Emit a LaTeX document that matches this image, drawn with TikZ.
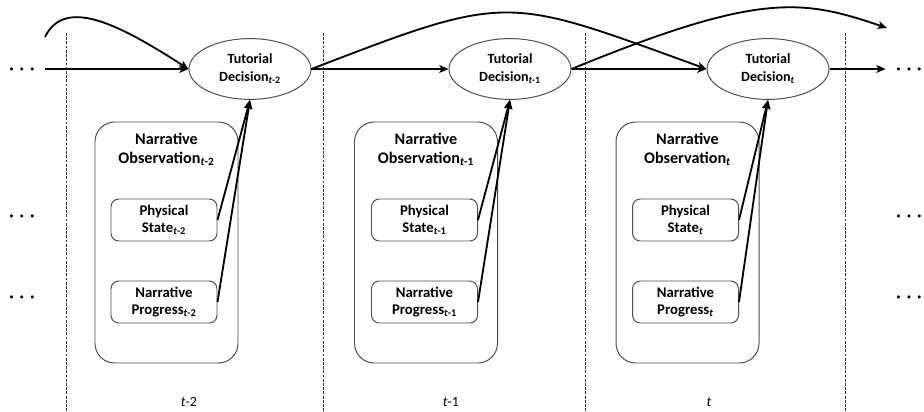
\documentclass[tikz,border=0pt]{standalone}
\usepackage{fontspec}
\setmainfont{Carlito}
\usetikzlibrary{arrows.meta, positioning, shapes.geometric}

\newcommand{\tsub}[1]{\textsubscript{\textit{t}#1}}

\begin{document}
\begin{tikzpicture}[
    decision/.style={ellipse, draw=black!70, line width=0.7pt, minimum width=3.05cm, minimum height=1.52cm, inner sep=0pt, align=center, font=\fontsize{10}{12.8}\selectfont\bfseries},
    obsbox/.style={draw=black!70, rounded corners=14pt, line width=0.7pt, minimum width=3.575cm, minimum height=6.025cm},
    obstitle/.style={anchor=north, inner sep=0pt, align=center, font=\fontsize{11.5}{13.3}\selectfont\bfseries},
    statebox/.style={draw=black!70, rounded corners=5.5pt, line width=0.7pt, minimum width=2.65cm, minimum height=1.05cm, inner sep=0pt, align=center, font=\fontsize{10.5}{12.1}\selectfont\bfseries},
    arrow/.style={-{Stealth[length=6.5pt, width=5.5pt, inset=1.5pt]}, line width=1.3pt},
    sep/.style={draw=black!80, line width=0.65pt, dash pattern=on 2pt off 1pt},
    dots/.style={font=\Large\boldmath, inner sep=0pt, text height=7.2pt, text depth=0pt, outer xsep=7pt},
    timelabel/.style={font=\fontsize{10}{12}\selectfont},
]
\useasboundingbox (0,0) rectangle (23.1,-10.275);

% time slice separators
\foreach \x in {1.65, 8.075, 14.625, 21.125}
    \draw[sep] (\x,-0.825) -- (\x,-10.275);

% tutorial decisions
\node[decision] (dec1) at (6.25,-1.725)  {Tutorial\\Decision\tsub{-2}};
\node[decision] (dec2) at (12.75,-1.725) {Tutorial\\Decision\tsub{-1}};
\node[decision] (dec3) at (19.2,-1.725)  {Tutorial\\Decision\tsub{}};

% narrative observations
\node[obsbox] (obs1) at (4.1625,-6.0625) {};
\node[obstitle] (obs1t) at (4.1625,-3.325) {Narrative\\Observation\tsub{-2}};
\node[statebox] (ps1) at (4.1,-5.5)  {Physical\\State\tsub{-2}};
\node[statebox] (np1) at (4.1,-7.55) {Narrative\\Progress\tsub{-2}};

\node[obsbox] (obs2) at (10.65,-6.0625) {};
\node[obstitle] (obs2t) at (10.65,-3.325) {Narrative\\Observation\tsub{-1}};
\node[statebox] (ps2) at (10.6125,-5.5)  {Physical\\State\tsub{-1}};
\node[statebox] (np2) at (10.6125,-7.55) {Narrative\\Progress\tsub{-1}};

\node[obsbox] (obs3) at (17.1875,-6.0625) {};
\node[obstitle] (obs3t) at (17.1875,-3.325) {Narrative\\Observation\tsub{}};
\node[statebox] (ps3) at (17.1375,-5.5)  {Physical\\State\tsub{}};
\node[statebox] (np3) at (17.1375,-7.55) {Narrative\\Progress\tsub{}};

% continuation dots
\node[dots] (dotsL1) at (0.55,-1.725) {$\cdots$};
\node[dots] (dotsL2) at (0.55,-5.4)   {$\cdots$};
\node[dots] (dotsL3) at (0.55,-7.425) {$\cdots$};
\node[dots] (dotsR1) at (22.725,-1.725) {$\cdots$};
\node[dots] (dotsR2) at (22.725,-5.4)   {$\cdots$};
\node[dots] (dotsR3) at (22.725,-7.425) {$\cdots$};

% time labels
\node[timelabel] (lab1) at (4.725,-10.05)  {\textit{t}-2};
\node[timelabel] (lab2) at (11.275,-10.05) {\textit{t}-1};
\node[timelabel] (lab3) at (17.725,-10.05) {\textit{t}};

% decision chain
\draw[arrow] (dotsL1) -- (dec1);
\draw[arrow] (dec1) -- (dec2);
\draw[arrow] (dec2) -- (dec3);
\draw[arrow] (dec3) -- (dotsR1);

% skip links
\coordinate (inA) at (1.125,-0.925);
\coordinate (outB) at (22.175,-0.7);
\draw[arrow] (inA) .. controls (1.625,0.1) and (3.0,-0.625) .. (dec1.west);
\draw[arrow] (dec1.east) .. controls (12.775,0.2) and (12.625,0.1) .. (dec3.west);
\draw[arrow] (dec2.east) .. controls (18.975,0.2) and (20.05,0.025) .. (outB);

% observations into decisions
\draw[arrow] (ps1.east) -- (dec1.south);
\draw[arrow] (np1.east) -- (dec1.south);
\draw[arrow] (ps2.east) -- (dec2.south);
\draw[arrow] (np2.east) -- (dec2.south);
\draw[arrow] (ps3.east) -- (dec3.south);
\draw[arrow] (np3.east) -- (dec3.south);

\end{tikzpicture}
\end{document}
